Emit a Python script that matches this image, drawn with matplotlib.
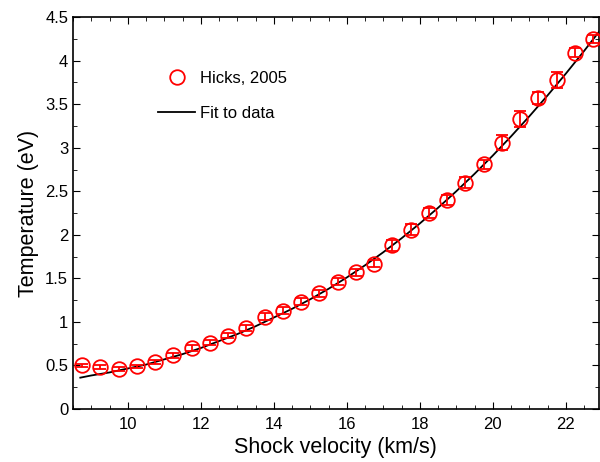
import matplotlib
matplotlib.use("Agg")
import matplotlib.pyplot as plt
from matplotlib.lines import Line2D
from matplotlib.ticker import MultipleLocator

plt.rcParams['font.family'] = ['Liberation Sans', 'DejaVu Sans']

# Hicks, 2005 data
velocity = [8.75, 9.25, 9.75, 10.25, 10.75, 11.25, 11.75, 12.25, 12.75, 13.25,
            13.75, 14.25, 14.75, 15.25, 15.75, 16.25, 16.75, 17.25, 17.75, 18.25,
            18.75, 19.25, 19.75, 20.25, 20.75, 21.25, 21.75, 22.25, 22.75]
temperature = [0.50, 0.48, 0.46, 0.49, 0.54, 0.615, 0.70, 0.76, 0.84, 0.93,
               1.06, 1.13, 1.23, 1.33, 1.46, 1.57, 1.67, 1.88, 2.06, 2.25,
               2.40, 2.60, 2.81, 3.06, 3.33, 3.57, 3.78, 4.09, 4.25]
temp_err = [0.02, 0.02, 0.02, 0.02, 0.02, 0.03, 0.03, 0.03, 0.03, 0.03,
            0.04, 0.04, 0.04, 0.04, 0.04, 0.04, 0.04, 0.06, 0.06, 0.06,
            0.06, 0.06, 0.05, 0.09, 0.09, 0.07, 0.09, 0.05, 0.05]

# fit curve
fit_v = [8.7, 9.0, 9.5, 10.0, 10.5, 11.0, 11.5, 12.0, 12.5, 13.0, 13.5, 14.0,
         14.5, 15.0, 15.5, 16.0, 16.5, 17.0, 17.5, 18.0, 18.5, 19.0, 19.5,
         20.0, 20.5, 21.0, 21.5, 22.0, 22.5, 23.0]
fit_t = [0.36, 0.385, 0.42, 0.465, 0.51, 0.57, 0.63, 0.70, 0.78, 0.86, 0.95, 1.05,
         1.15, 1.26, 1.38, 1.51, 1.65, 1.80, 1.96, 2.13, 2.31, 2.50, 2.70,
         2.91, 3.13, 3.36, 3.60, 3.85, 4.11, 4.38]

fig = plt.figure(figsize=(6, 4.62), dpi=100)
ax = fig.add_axes([0.1217, 0.1147, 0.876, 0.8483])

ax.errorbar(velocity, temperature, yerr=temp_err, fmt='o', mfc='none', mec='red',
            ecolor='red', ms=10.5, mew=1.3, elinewidth=1.3, capsize=4.5,
            capthick=1.3, zorder=3)
ax.plot(fit_v, fit_t, color='black', lw=1.3, zorder=2)

ax.set_xlim(8.5, 22.9)
ax.set_ylim(0, 4.5)
ax.xaxis.set_major_locator(MultipleLocator(2))
ax.xaxis.set_minor_locator(MultipleLocator(0.5))
ax.yaxis.set_major_locator(MultipleLocator(0.5))
ax.yaxis.set_minor_locator(MultipleLocator(0.25))
ax.yaxis.set_major_formatter(plt.FuncFormatter(lambda v, p: f'{v:g}'))
ax.tick_params(which='both', direction='in', top=True, right=True, labelsize=12)
ax.tick_params(which='major', length=5)
ax.tick_params(which='minor', length=3)
ax.tick_params(axis='x', which='major', pad=6)
for s in ax.spines.values():
    s.set_linewidth(1.2)

ax.set_xlabel('Shock velocity (km/s)', fontsize=15.5, labelpad=3)
ax.set_ylabel('Temperature (eV)', fontsize=15.5)

handles = [Line2D([], [], ls='none', marker='o', ms=10.5, mfc='none', mec='red', mew=1.3),
           Line2D([], [], color='black', lw=1.3)]
ax.legend(handles, ['Hicks, 2005', 'Fit to data'], frameon=False, loc='upper left',
          bbox_to_anchor=(0.134, 0.90), fontsize=12, handlelength=2.2,
          handletextpad=0.3, labelspacing=1.2)

fig.savefig('out.png', dpi=100)
